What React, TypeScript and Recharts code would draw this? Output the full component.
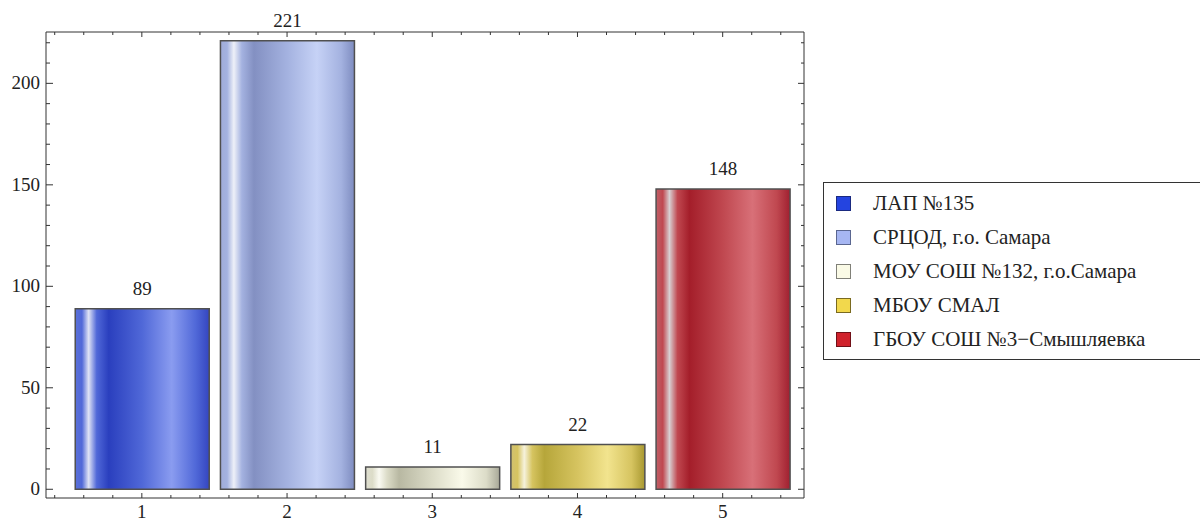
import { Bar, BarChart, Cell, LabelList, Legend, XAxis, YAxis } from "recharts";

const positions = [1, 2, 3, 4, 5];
const counts = [89, 221, 11, 22, 148];
const schools = [
  "ЛАП №135",
  "СРЦОД, г.о. Самара",
  "МОУ СОШ №132, г.о.Самара",
  "МБОУ СМАЛ",
  "ГБОУ СОШ №3−Смышляевка",
];
const swatches = ["#2444e0", "#a6b6f2", "#fafae6", "#f2d84c", "#d0222c"];
const swatchBorders = ["#1a2a80", "#5a6690", "#808078", "#7a6a20", "#701018"];

// left edge, highlight, dark, mid, light, right edge
const shades = [
  ["#5a70d8", "#dfe3f5", "#2a3fbe", "#5068d8", "#8a9cf0", "#3445c0"],
  ["#a0acd8", "#eef0f8", "#8390c2", "#a4b2e0", "#c6d2f6", "#7e8cc0"],
  ["#deded0", "#fafaf2", "#b8b8a2", "#dcdcc8", "#fafaea", "#a8a898"],
  ["#d0c070", "#f6f2dc", "#b6a63a", "#d6c460", "#f2e48e", "#a89830"],
  ["#c06068", "#d8d0d2", "#a41e2a", "#c04850", "#d87078", "#a02030"],
];

const yTicks = [0, 10, 20, 30, 40, 50, 60, 70, 80, 90, 100, 110, 120, 130, 140, 150, 160, 170, 180, 190, 200, 210, 220];
const xTicks = Array.from({ length: 26 }, (_, i) => Math.round((0.4 + i * 0.2) * 10) / 10);

const rows = positions.map((pos, i) => ({ pos, value: counts[i], name: schools[i] }));

const FONT = "'Times New Roman', 'Liberation Serif', Tinos, 'DejaVu Serif', 'Noto Serif', serif";
const FRAME = "#333";

const isWhole = (v: number) => Math.abs(v - Math.round(v)) < 1e-6;

function LeftTick({ x, y, payload }: any) {
  const v = payload.value;
  const major = v % 50 === 0;
  return (
    <g>
      <line x1={x} x2={x + (major ? 7 : 4)} y1={y} y2={y} stroke={FRAME} />
      {major && (
        <text x={x - 6} y={y} dy={6} textAnchor="end" fontSize={19} style={{ fontFamily: FONT }} fill="#222">
          {v}
        </text>
      )}
    </g>
  );
}

function RightTick({ x, y, payload }: any) {
  const major = payload.value % 50 === 0;
  return <line x1={x} x2={x - (major ? 6 : 3)} y1={y} y2={y} stroke={FRAME} />;
}

function BottomTick({ x, y, payload }: any) {
  const v = payload.value;
  const major = isWhole(v);
  return (
    <g>
      <line x1={x} x2={x} y1={y} y2={y - (major ? 5 : 3)} stroke={FRAME} />
      {major && (
        <text x={x} y={y + 20} textAnchor="middle" fontSize={19} style={{ fontFamily: FONT }} fill="#222">
          {v}
        </text>
      )}
    </g>
  );
}

function TopTick({ x, y, payload }: any) {
  const major = isWhole(payload.value);
  return <line x1={x} x2={x} y1={y} y2={y + (major ? 5 : 3)} stroke={FRAME} />;
}

function SchoolLegend() {
  return (
    <div
      style={{
        border: "1px solid #333",
        background: "#fff",
        padding: "3px 0 3px 12px",
        width: 420,
        boxSizing: "border-box",
        fontFamily: FONT,
        fontSize: 21,
        color: "#222",
      }}
    >
      {schools.map((s, i) => (
        <div key={s} style={{ display: "flex", alignItems: "center", height: 34 }}>
          <span
            style={{
              width: 13,
              height: 13,
              background: swatches[i],
              border: `1px solid ${swatchBorders[i]}`,
              marginRight: 22,
              flex: "none",
            }}
          />
          <span style={{ whiteSpace: "nowrap" }}>{s}</span>
        </div>
      ))}
    </div>
  );
}

export default function App() {
  return (
    <div style={{ position: "absolute", left: 0, top: 0, width: 1200, height: 523, overflow: "hidden", background: "#fff", fontFamily: FONT }}>
      <BarChart width={1200} height={523} data={rows} margin={{ top: 31, right: 395, bottom: 0, left: 0 }}>
        <defs>
          {shades.map((c, i) => (
            <linearGradient key={i} id={`bar-${i}`} x1="0" y1="0" x2="1" y2="0">
              <stop offset="0" stopColor={c[0]} />
              <stop offset="0.05" stopColor={c[3]} />
              <stop offset="0.1" stopColor={c[1]} />
              <stop offset="0.16" stopColor={c[3]} />
              <stop offset="0.25" stopColor={c[2]} />
              <stop offset="0.5" stopColor={c[3]} />
              <stop offset="0.72" stopColor={c[4]} />
              <stop offset="0.9" stopColor={c[3]} />
              <stop offset="1" stopColor={c[5]} />
            </linearGradient>
          ))}
        </defs>
        <XAxis
          xAxisId="bottom"
          dataKey="pos"
          type="number"
          domain={[0.34, 5.56]}
          allowDataOverflow
          ticks={xTicks}
          interval={0}
          height={25}
          tickSize={0}
          tickMargin={0}
          axisLine={{ stroke: FRAME }}
          tick={BottomTick}
        />
        <XAxis
          xAxisId="top"
          orientation="top"
          dataKey="pos"
          type="number"
          domain={[0.34, 5.56]}
          allowDataOverflow
          ticks={xTicks}
          interval={0}
          height={1}
          tickSize={0}
          tickMargin={0}
          axisLine={{ stroke: FRAME }}
          tick={TopTick}
        />
        <YAxis
          yAxisId="left"
          type="number"
          domain={[-4.3, 225.3]}
          allowDataOverflow
          ticks={yTicks}
          interval={0}
          width={46}
          tickSize={0}
          tickMargin={0}
          axisLine={{ stroke: FRAME }}
          tick={LeftTick}
        />
        <YAxis
          yAxisId="right"
          orientation="right"
          type="number"
          domain={[-4.3, 225.3]}
          allowDataOverflow
          ticks={yTicks}
          interval={0}
          width={1}
          tickSize={0}
          tickMargin={0}
          axisLine={{ stroke: FRAME }}
          tick={RightTick}
        />
        <Legend
          layout="horizontal"
          verticalAlign="middle"
          align="center"
          content={SchoolLegend}
          wrapperStyle={{ position: "absolute", left: 823, top: 182, width: 420, height: 174 }}
        />
        <Bar
          xAxisId="bottom"
          yAxisId="left"
          dataKey="value"
          barSize={134}
          stroke="#505050"
          strokeWidth={1.5}
          isAnimationActive={false}
        >
          {rows.map((r, i) => (
            <Cell key={r.name} fill={`url(#bar-${i})`} />
          ))}
          <LabelList
            dataKey="value"
            position="top"
            offset={14}
            fontSize={19}
            style={{ fontFamily: FONT }}
            fill="#222"
          />
        </Bar>
      </BarChart>
    </div>
  );
}
